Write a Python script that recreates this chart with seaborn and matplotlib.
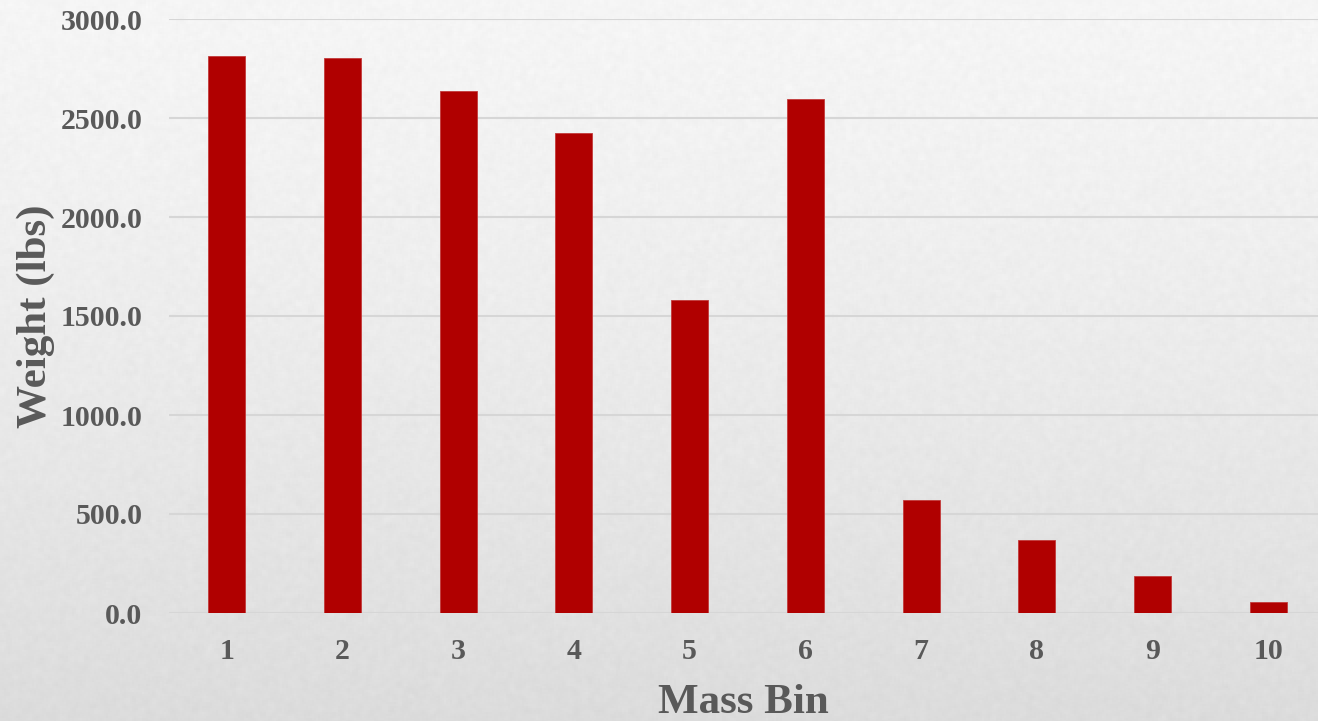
import numpy as np
import matplotlib
matplotlib.use("Agg")
import matplotlib.pyplot as plt
import seaborn as sns
import pandas as pd

# Data
mass_bins = ["1", "2", "3", "4", "5", "6", "7", "8", "9", "10"]
weights = [2811, 2803, 2636, 2423, 1581, 2596, 571, 369, 187, 56]
y_ticks = [0, 500, 1000, 1500, 2000, 2500, 3000]

df = pd.DataFrame({"Mass Bin": mass_bins, "Weight": weights})

sns.set_theme(style="white")
plt.rcParams["font.family"] = ["Liberation Serif", "DejaVu Serif"]
plt.rcParams["font.weight"] = "bold"

W, H = 1318, 721
fig = plt.figure(figsize=(W / 100, H / 100), dpi=100)

# Paper-like background: vertical light-grey gradient with a soft grain
bg = fig.add_axes([0, 0, 1, 1], zorder=-10)
rows = np.linspace(0, 1, H)[:, None]
grad = 0.962 - 0.10 * rows ** 1.3
rng = np.random.default_rng(7)
grain = rng.normal(0, 1, (H // 2 + 1, W // 2 + 1))
k = np.ones(3) / 3
grain = np.apply_along_axis(lambda r: np.convolve(r, k, mode="same"), 1, grain)
grain = np.apply_along_axis(lambda c: np.convolve(c, k, mode="same"), 0, grain)
grain = np.repeat(np.repeat(grain, 2, axis=0), 2, axis=1)[:H, :W]
img = np.clip(grad + 0.012 * grain, 0, 1)
bg.imshow(np.dstack([img, img, img]), aspect="auto", extent=[0, 1, 0, 1])
bg.set_axis_off()

left, right = 169 / W, 1.0
bottom, top = (H - 613) / H, (H - 19) / H
ax = fig.add_axes([left, bottom, right - left, top - bottom])
ax.patch.set_alpha(0)

sns.barplot(data=df, x="Mass Bin", y="Weight", order=mass_bins,
            color="#b00000", saturation=1, width=0.32, ax=ax,
            edgecolor="#c23a3a", linewidth=0.6, zorder=3)

ax.set_xlim(-0.5, -0.5 + (W - 169) / 115.7)
ax.set_ylim(0, 3000)
ax.set_yticks(y_ticks)
ax.set_yticklabels([f"{v:.1f}" for v in y_ticks])

ax.yaxis.grid(True, color="#d6d6d6", linewidth=1.5, zorder=0)
ax.set_axisbelow(True)
for s in ax.spines.values():
    s.set_visible(False)

text_color = "#595959"
ax.tick_params(axis="y", length=0, pad=19, labelsize=21.5, labelcolor=text_color)
ax.tick_params(axis="x", length=0, pad=18, labelsize=21.5, labelcolor=text_color)
for lbl in ax.get_xticklabels() + ax.get_yticklabels():
    lbl.set_fontweight("bold")

ax.set_xlabel("Mass Bin", fontsize=31, fontweight="bold", color=text_color, labelpad=14)
ax.set_ylabel("Weight (lbs)", fontsize=31, fontweight="bold", color=text_color, labelpad=4)

fig.savefig("out.png", dpi=100)
